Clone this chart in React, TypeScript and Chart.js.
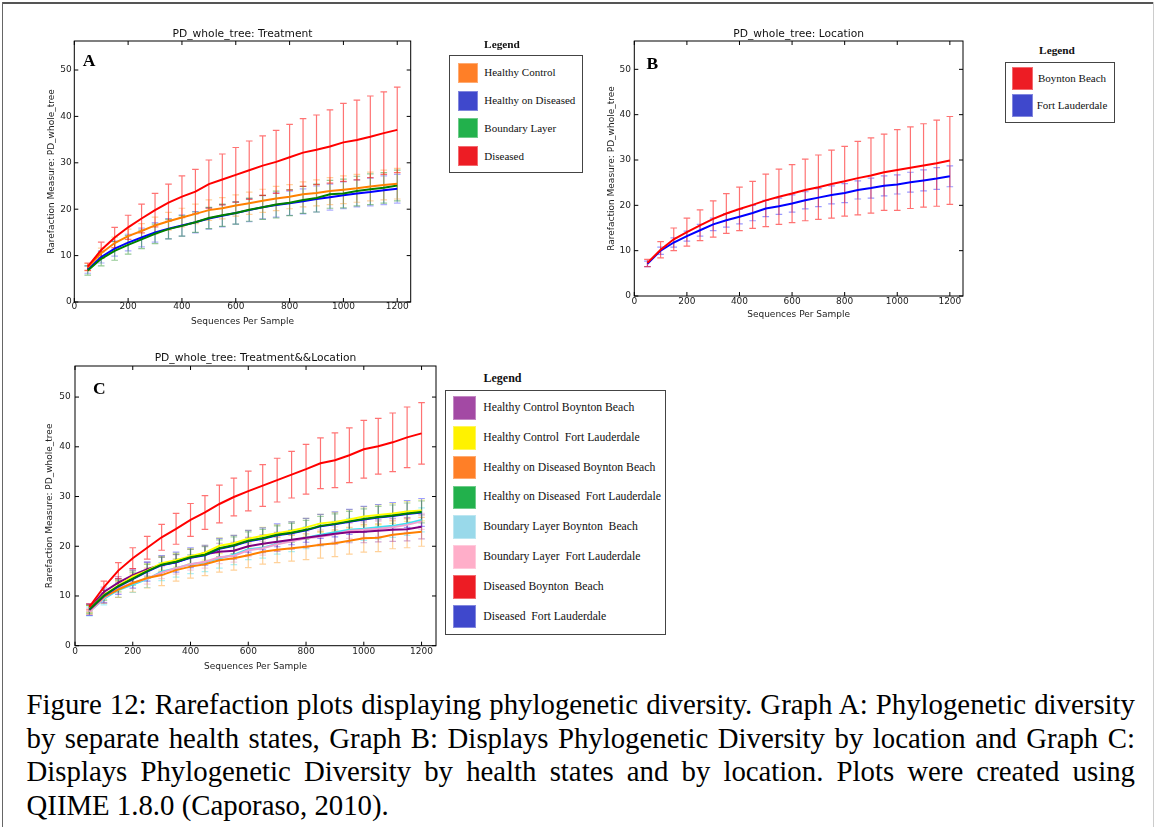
import React, { useEffect, useRef } from 'react';
import { Chart, registerables } from 'chart.js';

Chart.register(...registerables);

// ---------------- shared axes ----------------
const SEQS = [50, 100, 150, 200, 250, 300, 350, 400, 450, 500, 550, 600, 650, 700, 750, 800, 850, 900, 950, 1000, 1050, 1100, 1150, 1200];
const X_TICKS = [0, 200, 400, 600, 800, 1000, 1200];
const Y_TICKS = [0, 10, 20, 30, 40, 50];
const X_MAX = 1250;
const Y_MAX = 56.25;

// ---------------- Graph A: Treatment ----------------
const A_HC_MEAN = [7.5, 10.5, 12.7, 14.2, 15.3, 16.5, 17.4, 18.2, 19.0, 19.8, 20.2, 20.8, 21.3, 21.8, 22.3, 22.7, 23.2, 23.5, 23.9, 24.2, 24.5, 24.9, 25.2, 25.5];
const A_HC_SD = [0.8, 1.1, 1.3, 1.5, 1.6, 1.8, 1.9, 2.0, 2.1, 2.2, 2.3, 2.3, 2.4, 2.5, 2.6, 2.6, 2.7, 2.8, 2.9, 3.0, 3.0, 3.1, 3.2, 3.3];
const A_HOD_MEAN = [7.0, 9.7, 11.5, 12.8, 13.9, 15.0, 15.8, 16.5, 17.2, 18.0, 18.6, 19.2, 19.8, 20.4, 20.9, 21.3, 21.7, 22.2, 22.6, 23.0, 23.4, 23.7, 24.1, 24.4];
const A_HOD_SD = [0.8, 1.3, 1.6, 1.8, 2.0, 2.1, 2.2, 2.3, 2.3, 2.3, 2.4, 2.4, 2.5, 2.5, 2.6, 2.6, 2.7, 2.8, 2.8, 2.9, 2.9, 3.0, 3.1, 3.1];
const A_BL_MEAN = [6.8, 9.3, 11.0, 12.3, 13.5, 14.7, 15.7, 16.4, 17.2, 18.1, 18.7, 19.2, 19.9, 20.4, 21.0, 21.4, 22.0, 22.4, 23.2, 23.4, 23.9, 24.3, 24.6, 25.1];
const A_BL_SD = [1.0, 1.5, 2.0, 2.0, 2.0, 2.1, 2.1, 2.2, 2.2, 2.3, 2.4, 2.4, 2.5, 2.6, 2.9, 2.8, 2.9, 3.0, 3.0, 3.1, 3.2, 3.3, 3.3, 3.3];
const A_D_MEAN = [7.6, 11.2, 13.9, 16.1, 18.0, 19.8, 21.4, 22.7, 23.8, 25.4, 26.4, 27.4, 28.4, 29.4, 30.2, 31.2, 32.2, 32.8, 33.5, 34.4, 34.9, 35.6, 36.4, 37.1];
const A_D_SD = [0.8, 1.7, 2.2, 2.6, 3.1, 3.6, 4.0, 4.5, 4.8, 5.2, 5.5, 5.9, 6.3, 6.4, 6.8, 7.1, 7.3, 7.5, 7.9, 8.4, 8.6, 8.8, 8.9, 9.2];

// ---------------- Graph B: Location ----------------
const B_BB_MEAN = [7.3, 10.2, 12.5, 14.1, 15.6, 17.0, 18.2, 19.2, 20.1, 21.1, 21.9, 22.6, 23.4, 24.0, 24.7, 25.3, 26.0, 26.6, 27.3, 27.8, 28.3, 28.8, 29.3, 29.9];
const B_BB_SD = [0.8, 1.8, 2.5, 3.1, 3.4, 4.0, 4.4, 4.8, 5.2, 5.8, 6.1, 6.4, 6.8, 7.1, 7.5, 7.7, 8.1, 8.3, 8.4, 8.9, 9.0, 9.2, 9.5, 9.7];
const B_FL_MEAN = [7.1, 10.0, 11.8, 13.2, 14.5, 15.8, 16.7, 17.5, 18.3, 19.3, 19.8, 20.4, 21.1, 21.7, 22.3, 22.7, 23.4, 23.8, 24.3, 24.6, 25.1, 25.5, 25.9, 26.4];
const B_FL_SD = [0.6, 0.8, 1.0, 1.1, 1.3, 1.4, 1.5, 1.6, 1.7, 1.8, 1.8, 1.9, 1.9, 2.0, 2.0, 2.1, 2.0, 2.2, 2.2, 2.1, 2.2, 2.3, 2.4, 2.3];

// ---------------- Graph C: Treatment && Location ----------------
const C_HCBB_MEAN = [7.6, 10.8, 12.7, 14.2, 15.4, 16.3, 16.8, 17.8, 18.4, 18.9, 19.1, 20.0, 20.5, 20.9, 21.3, 21.7, 22.1, 22.5, 22.8, 22.9, 23.1, 23.3, 23.4, 23.9];
const C_HCBB_SD = [0.8, 1.0, 1.2, 1.3, 1.4, 1.5, 1.5, 1.6, 1.6, 1.7, 1.7, 1.8, 1.8, 1.9, 1.9, 2.0, 2.0, 2.1, 2.1, 2.2, 2.2, 2.3, 2.3, 2.4];
const C_HCFL_MEAN = [7.4, 10.2, 12.1, 13.9, 15.1, 16.6, 17.2, 18.0, 18.7, 20.1, 20.6, 21.5, 22.1, 22.6, 23.1, 23.8, 24.6, 24.9, 25.4, 26.0, 26.3, 26.6, 27.0, 27.2];
const C_HCFL_SD = [0.7, 0.9, 1.1, 1.2, 1.3, 1.4, 1.4, 1.5, 1.5, 1.6, 1.6, 1.7, 1.7, 1.7, 1.8, 1.8, 1.8, 1.9, 1.9, 1.9, 2.0, 2.0, 2.0, 2.1];
const C_HODBB_MEAN = [7.2, 9.8, 11.3, 12.6, 13.6, 14.2, 15.2, 15.9, 16.4, 17.2, 17.6, 18.2, 18.9, 19.3, 19.6, 19.9, 20.3, 20.6, 21.1, 21.6, 21.7, 22.3, 22.6, 22.9];
const C_HODBB_SD = [0.9, 1.3, 1.6, 1.8, 2.0, 2.1, 2.2, 2.3, 2.3, 2.4, 2.4, 2.5, 2.5, 2.6, 2.6, 2.6, 2.7, 2.7, 2.7, 2.8, 2.8, 2.8, 2.9, 2.9];
const C_HODFL_MEAN = [7.3, 10.1, 12.0, 13.5, 15.0, 16.3, 16.9, 17.8, 18.3, 19.6, 20.2, 21.1, 21.6, 22.3, 22.7, 23.3, 24.1, 24.5, 25.0, 25.5, 25.9, 26.2, 26.6, 26.9];
const C_HODFL_SD = [0.8, 1.0, 1.2, 1.3, 1.4, 1.5, 1.5, 1.6, 1.6, 1.7, 1.7, 1.8, 1.8, 1.8, 1.9, 1.9, 1.9, 2.0, 2.0, 2.0, 2.1, 2.1, 2.1, 2.2];
const C_BLBB_MEAN = [6.9, 9.4, 11.2, 12.3, 13.4, 14.9, 15.6, 16.4, 16.8, 17.6, 18.3, 19.4, 19.7, 20.5, 21.1, 21.7, 22.3, 22.8, 23.3, 23.5, 23.8, 24.1, 24.6, 25.3];
const C_BLBB_SD = [0.9, 1.2, 1.5, 1.6, 1.7, 1.8, 1.8, 1.9, 1.9, 2.0, 2.0, 2.1, 2.1, 2.1, 2.2, 2.2, 2.2, 2.2, 2.3, 2.3, 2.3, 2.3, 2.4, 2.4];
const C_BLFL_MEAN = [6.8, 9.6, 11.5, 12.6, 13.5, 14.7, 15.6, 16.4, 16.9, 17.8, 18.1, 19.2, 19.6, 20.4, 21.0, 21.6, 21.9, 22.4, 23.1, 23.3, 23.5, 23.8, 24.3, 25.0];
const C_BLFL_SD = [0.7, 0.9, 1.0, 1.1, 1.1, 1.2, 1.2, 1.2, 1.3, 1.3, 1.3, 1.3, 1.4, 1.4, 1.4, 1.4, 1.4, 1.5, 1.5, 1.5, 1.5, 1.5, 1.5, 1.6];
const C_DBB_MEAN = [7.8, 11.8, 15.1, 17.6, 19.7, 21.8, 23.5, 25.3, 26.8, 28.5, 29.9, 31.1, 32.2, 33.3, 34.4, 35.5, 36.7, 37.3, 38.3, 39.5, 40.1, 40.9, 41.9, 42.7];
const C_DBB_SD = [0.6, 1.2, 1.6, 2.1, 2.3, 2.6, 3.1, 3.3, 3.4, 3.8, 3.8, 4.0, 4.2, 4.4, 4.7, 5.0, 5.1, 5.5, 5.5, 5.8, 5.6, 5.9, 6.1, 6.2];
const C_DFL_MEAN = [7.2, 10.0, 11.9, 13.4, 14.9, 16.2, 16.8, 17.7, 18.2, 19.5, 20.1, 21.0, 21.5, 22.2, 22.6, 23.2, 24.0, 24.4, 24.9, 25.4, 25.8, 26.1, 26.5, 26.8];
const C_DFL_SD = [1.1, 1.4, 1.6, 1.8, 1.9, 1.9, 2.0, 2.0, 2.0, 2.1, 2.1, 2.2, 2.2, 2.3, 2.3, 2.4, 2.4, 2.5, 2.5, 2.6, 2.6, 2.7, 2.7, 2.8];

// ---------------- legends ----------------
const LEG_A_LABELS = ['Healthy Control', 'Healthy on Diseased', 'Boundary Layer', 'Diseased'];
const LEG_A_COLORS = ['#ff7f27', '#3f48cc', '#22b14c', '#ed1c24'];
const LEG_B_LABELS = ['Boynton Beach', 'Fort Lauderdale'];
const LEG_B_COLORS = ['#ed1c24', '#3f48cc'];
const LEG_C_LABELS = [
  'Healthy Control Boynton Beach',
  'Healthy Control  Fort Lauderdale',
  'Healthy on Diseased Boynton Beach',
  'Healthy on Diseased  Fort Lauderdale',
  'Boundary Layer Boynton  Beach',
  'Boundary Layer  Fort Lauderdale',
  'Diseased Boynton  Beach',
  'Diseased  Fort Lauderdale',
];
const LEG_C_COLORS = ['#a349a4', '#fff200', '#ff7f27', '#22b14c', '#99d9ea', '#ffaec9', '#ed1c24', '#3f48cc'];

const CAPTION_LINES = [
  'Figure 12: Rarefaction plots displaying phylogenetic diversity. Graph A: Phylogenetic diversity',
  'by separate health states, Graph B: Displays Phylogenetic Diversity by location and Graph C:',
  'Displays Phylogenetic Diversity by health states and by location. Plots were created using',
  'QIIME 1.8.0 (Caporaso, 2010).',
];

const SANS = "'DejaVu Sans', sans-serif";
const SERIF = "'Liberation Serif', 'Times New Roman', serif";

type Series = { name: string; mean: number[]; sd: number[]; line: string; err: string; order: number };

const SERIES_A: Series[] = [
  { name: 'Healthy Control', mean: A_HC_MEAN, sd: A_HC_SD, line: '#ff8000', err: 'rgba(255,140,0,0.38)', order: 1 },
  { name: 'Healthy on Diseased', mean: A_HOD_MEAN, sd: A_HOD_SD, line: '#0000ff', err: 'rgba(0,0,255,0.32)', order: 3 },
  { name: 'Boundary Layer', mean: A_BL_MEAN, sd: A_BL_SD, line: '#008000', err: 'rgba(0,128,0,0.42)', order: 2 },
  { name: 'Diseased', mean: A_D_MEAN, sd: A_D_SD, line: '#ff0000', err: 'rgba(255,0,0,0.55)', order: 0 },
];
const SERIES_B: Series[] = [
  { name: 'Boynton Beach', mean: B_BB_MEAN, sd: B_BB_SD, line: '#ff0000', err: 'rgba(255,0,0,0.55)', order: 0 },
  { name: 'Fort Lauderdale', mean: B_FL_MEAN, sd: B_FL_SD, line: '#0000ff', err: 'rgba(0,0,255,0.4)', order: 1 },
];
const SERIES_C: Series[] = [
  { name: LEG_C_LABELS[0], mean: C_HCBB_MEAN, sd: C_HCBB_SD, line: '#800080', err: 'rgba(128,0,128,0.35)', order: 4 },
  { name: LEG_C_LABELS[1], mean: C_HCFL_MEAN, sd: C_HCFL_SD, line: '#ffff00', err: 'rgba(230,230,0,0.4)', order: 3 },
  { name: LEG_C_LABELS[2], mean: C_HODBB_MEAN, sd: C_HODBB_SD, line: '#ff8000', err: 'rgba(255,140,0,0.4)', order: 5 },
  { name: LEG_C_LABELS[3], mean: C_HODFL_MEAN, sd: C_HODFL_SD, line: '#008000', err: 'rgba(0,128,0,0.35)', order: 1 },
  { name: LEG_C_LABELS[4], mean: C_BLBB_MEAN, sd: C_BLBB_SD, line: '#40e0f0', err: 'rgba(64,224,240,0.45)', order: 7 },
  { name: LEG_C_LABELS[5], mean: C_BLFL_MEAN, sd: C_BLFL_SD, line: '#f0a0d0', err: 'rgba(240,160,208,0.5)', order: 6 },
  { name: LEG_C_LABELS[6], mean: C_DBB_MEAN, sd: C_DBB_SD, line: '#ff0000', err: 'rgba(255,0,0,0.55)', order: 0 },
  { name: LEG_C_LABELS[7], mean: C_DFL_MEAN, sd: C_DFL_SD, line: '#0000ff', err: 'rgba(0,0,255,0.38)', order: 2 },
];

type Rect = { left: number; top: number; right: number; bottom: number };
type Spec = {
  title: string;
  series: Series[];
  canvas: Rect;
  plot: Rect;
  titleCy: number;
  xTitleCy: number;
  yTitleCx: number;
  yTickPad: number;
  xTickPad: number;
};

const SPEC_A: Spec = {
  title: 'PD_whole_tree: Treatment', series: SERIES_A,
  canvas: { left: 39, top: 23, right: 421, bottom: 336 },
  plot: { left: 74.3, top: 41, right: 410.7, bottom: 302 },
  titleCy: 34.3, xTitleCy: 321.7, yTitleCx: 51.7, yTickPad: 2.6, xTickPad: 0.3,
};
const SPEC_B: Spec = {
  title: 'PD_whole_tree: Location', series: SERIES_B,
  canvas: { left: 599, top: 23, right: 973, bottom: 330 },
  plot: { left: 634.3, top: 41, right: 963, bottom: 296 },
  titleCy: 34.3, xTitleCy: 315, yTitleCx: 611.7, yTickPad: 3.3, xTickPad: 1.2,
};
const SPEC_C: Spec = {
  title: 'PD_whole_tree: Treatment&&Location', series: SERIES_C,
  canvas: { left: 40, top: 348, right: 446, bottom: 680 },
  plot: { left: 75, top: 366, right: 436, bottom: 645.7 },
  titleCy: 358.3, xTitleCy: 666.7, yTitleCx: 49.7, yTickPad: 4.3, xTickPad: 1.5,
};

const errorFramePlugin = {
  id: 'errorFrame',
  beforeDatasetsDraw(chart: any) {
    const { ctx } = chart;
    const xs = chart.scales.x;
    const ys = chart.scales.y;
    const metas = chart.getSortedVisibleDatasetMetas();
    ctx.save();
    for (let k = metas.length - 1; k >= 0; k--) {
      const ds: any = chart.data.datasets[metas[k].index];
      if (!ds.sd) continue;
      ctx.strokeStyle = ds.errColor;
      ctx.lineWidth = 1.2;
      ds.data.forEach((p: any, j: number) => {
        const px = xs.getPixelForValue(p.x);
        const t = ys.getPixelForValue(p.y + ds.sd[j]);
        const b = ys.getPixelForValue(p.y - ds.sd[j]);
        ctx.beginPath();
        ctx.moveTo(px, t);
        ctx.lineTo(px, b);
        ctx.moveTo(px - 3.3, t);
        ctx.lineTo(px + 3.3, t);
        ctx.moveTo(px - 3.3, b);
        ctx.lineTo(px + 3.3, b);
        ctx.stroke();
      });
    }
    ctx.restore();
  },
  afterDraw(chart: any) {
    const { ctx, chartArea } = chart;
    const xs = chart.scales.x;
    const ys = chart.scales.y;
    const { left, top, right, bottom } = chartArea;
    ctx.save();
    ctx.strokeStyle = '#000';
    ctx.lineWidth = 1;
    ctx.strokeRect(left, top, right - left, bottom - top);
    ctx.beginPath();
    X_TICKS.forEach((v) => {
      const px = xs.getPixelForValue(v);
      ctx.moveTo(px, bottom);
      ctx.lineTo(px, bottom - 4);
      ctx.moveTo(px, top);
      ctx.lineTo(px, top + 4);
    });
    Y_TICKS.forEach((v) => {
      const py = ys.getPixelForValue(v);
      ctx.moveTo(left, py);
      ctx.lineTo(left + 4, py);
      ctx.moveTo(right, py);
      ctx.lineTo(right - 4, py);
    });
    ctx.stroke();
    ctx.restore();
  },
};

function buildConfig(spec: Spec): any {
  const { canvas, plot } = spec;
  const yAxisW = plot.left - canvas.left;
  const padRight = canvas.right - plot.right;
  const titleH = plot.top - canvas.top;
  const xAxisH = canvas.bottom - plot.bottom;
  const TITLE_SIZE = 10.7;
  const titleLH = TITLE_SIZE * 1.2;
  const titlePadTop = spec.titleCy - canvas.top - titleLH / 2;
  const titlePadBottom = Math.max(0, titleH - titleLH - titlePadTop);
  const AX_SIZE = 9;
  const axLH = AX_SIZE * 1.2;
  const xTitlePadBottom = canvas.bottom - spec.xTitleCy - axLH / 2;
  const yTitlePadTop = spec.yTitleCx - canvas.left - axLH / 2;
  const tickFont = { family: SANS, size: AX_SIZE, lineHeight: 1 };

  return {
    type: 'line',
    data: {
      datasets: spec.series.map((s) => ({
        label: s.name,
        data: SEQS.map((x, i) => ({ x, y: s.mean[i] })),
        borderColor: s.line,
        backgroundColor: s.line,
        borderWidth: 2,
        pointRadius: 0,
        fill: false,
        tension: 0,
        order: s.order,
        sd: s.sd,
        errColor: s.err,
      })),
    },
    options: {
      animation: false,
      responsive: false,
      maintainAspectRatio: false,
      events: [],
      layout: { padding: { left: 0, top: 0, right: padRight, bottom: 0 } },
      plugins: {
        legend: { display: false },
        tooltip: { enabled: false },
        title: {
          display: true,
          text: spec.title,
          fullSize: false,
          color: '#111',
          font: { family: SANS, size: TITLE_SIZE, weight: 'normal' },
          padding: { top: titlePadTop, bottom: titlePadBottom },
        },
      },
      scales: {
        x: {
          type: 'linear',
          min: 0,
          max: X_MAX,
          afterBuildTicks: (axis: any) => {
            axis.ticks = X_TICKS.map((v) => ({ value: v }));
          },
          afterFit: (axis: any) => {
            axis.height = xAxisH;
          },
          grid: { display: false, drawTicks: false },
          border: { display: false },
          ticks: {
            font: tickFont,
            color: '#222',
            padding: spec.xTickPad,
            maxRotation: 0,
            autoSkip: false,
            callback: (v: any) => String(v),
          },
          title: {
            display: true,
            text: 'Sequences Per Sample',
            color: '#222',
            font: { family: SANS, size: AX_SIZE },
            padding: { top: 0, bottom: xTitlePadBottom },
          },
        },
        y: {
          type: 'linear',
          min: 0,
          max: Y_MAX,
          afterBuildTicks: (axis: any) => {
            axis.ticks = Y_TICKS.map((v) => ({ value: v }));
          },
          afterFit: (axis: any) => {
            axis.width = yAxisW;
          },
          grid: { display: false, drawTicks: false },
          border: { display: false },
          ticks: {
            font: tickFont,
            color: '#222',
            padding: spec.yTickPad,
            autoSkip: false,
            callback: (v: any) => String(v),
          },
          title: {
            display: true,
            text: 'Rarefaction Measure: PD_whole_tree',
            color: '#222',
            font: { family: SANS, size: AX_SIZE },
            padding: { top: yTitlePadTop, bottom: 0 },
          },
        },
      },
    },
    plugins: [errorFramePlugin],
  };
}

function RarefactionChart({ spec }: { spec: Spec }) {
  const ref = useRef<HTMLCanvasElement>(null);
  const w = spec.canvas.right - spec.canvas.left;
  const h = spec.canvas.bottom - spec.canvas.top;
  useEffect(() => {
    const chart = new Chart(ref.current as HTMLCanvasElement, buildConfig(spec));
    return () => chart.destroy();
  }, [spec]);
  return (
    <canvas
      ref={ref}
      width={w}
      height={h}
      style={{ position: 'absolute', left: spec.canvas.left, top: spec.canvas.top, width: w, height: h }}
    />
  );
}

type LegendProps = {
  labels: string[];
  colors: string[];
  titleCx: number;
  titleCy: number;
  titleSize: number;
  box: { l: number; t: number; w: number; h: number };
  swLeft: number;
  swW: number;
  swH: number;
  cy0: number;
  step: number;
  textLeft?: number;
  textCx?: number;
  fontSize: number;
};

function LegendBox(p: LegendProps) {
  return (
    <>
      <div
        style={{
          position: 'absolute', left: p.titleCx - 50, width: 100, top: p.titleCy - p.titleSize * 0.6,
          height: p.titleSize * 1.2, lineHeight: `${p.titleSize * 1.2}px`, textAlign: 'center',
          fontFamily: SERIF, fontWeight: 'bold', fontSize: p.titleSize, color: '#111',
        }}
      >
        Legend
      </div>
      <div
        style={{
          position: 'absolute', left: p.box.l, top: p.box.t, width: p.box.w, height: p.box.h,
          border: '1px solid #444', boxSizing: 'border-box', background: '#fff',
        }}
      />
      {p.labels.map((lab, i) => {
        const cy = p.cy0 + i * p.step;
        const centered = p.textLeft === undefined;
        return (
          <React.Fragment key={i}>
            <div
              style={{
                position: 'absolute', left: p.swLeft, top: cy - p.swH / 2, width: p.swW, height: p.swH,
                background: p.colors[i], boxShadow: 'inset 0 0 0 1px rgba(255,255,255,0.35)',
              }}
            />
            <div
              style={{
                position: 'absolute',
                left: centered ? (p.textCx as number) - 60 : p.textLeft,
                width: centered ? 120 : undefined,
                top: cy - p.fontSize * 0.6,
                height: p.fontSize * 1.2,
                lineHeight: `${p.fontSize * 1.2}px`,
                fontSize: p.fontSize,
                fontFamily: SERIF,
                whiteSpace: 'pre',
                textAlign: centered ? 'center' : 'left',
                color: '#111',
              }}
            >
              {lab}
            </div>
          </React.Fragment>
        );
      })}
    </>
  );
}

const letterStyle = (left: number, top: number): React.CSSProperties => ({
  position: 'absolute', left, top, fontFamily: SERIF, fontWeight: 'bold', fontSize: 17.5,
  lineHeight: '17.5px', color: '#000',
});

export default function App() {
  return (
    <div
      style={{
        position: 'absolute', left: 0, top: 0, width: 1155, height: 827, background: '#fff', overflow: 'hidden',
      }}
    >
      {/* figure frame */}
      <div style={{ position: 'absolute', left: 2, top: 2, width: 1152, height: 2, background: '#555' }} />
      <div style={{ position: 'absolute', left: 2, top: 2, width: 1, height: 830, background: '#666' }} />
      <div style={{ position: 'absolute', left: 1153, top: 2, width: 1, height: 830, background: '#ccc' }} />

      <RarefactionChart spec={SPEC_A} />
      <RarefactionChart spec={SPEC_B} />
      <RarefactionChart spec={SPEC_C} />

      <div style={letterStyle(82.7, 52)}>A</div>
      <div style={letterStyle(646.5, 54.7)}>B</div>
      <div style={letterStyle(93, 379.7)}>C</div>

      <LegendBox
        labels={LEG_A_LABELS} colors={LEG_A_COLORS}
        titleCx={502} titleCy={45} titleSize={11.3}
        box={{ l: 449, t: 55, w: 134, h: 118 }}
        swLeft={458.3} swW={20} swH={20} cy0={72.8} step={27.8}
        textLeft={484.3} fontSize={11}
      />
      <LegendBox
        labels={LEG_B_LABELS} colors={LEG_B_COLORS}
        titleCx={1057} titleCy={51} titleSize={11.3}
        box={{ l: 1005, t: 62, w: 110, h: 61 }}
        swLeft={1011.7} swW={21.7} swH={23} cy0={78.3} step={26.9}
        textCx={1072} fontSize={11}
      />
      <LegendBox
        labels={LEG_C_LABELS} colors={LEG_C_COLORS}
        titleCx={502.5} titleCy={378.3} titleSize={12}
        box={{ l: 445, t: 390, w: 221, h: 245 }}
        swLeft={452.7} swW={23} swH={23.5} cy0={408} step={29.8}
        textLeft={483.3} fontSize={11.7}
      />

      {CAPTION_LINES.map((line, i) => (
        <div
          key={i}
          style={{
            position: 'absolute', left: 26.5, top: 688 + i * 33.7, width: 1108.5, height: 33.7,
            lineHeight: '33.7px', fontSize: 28.8, fontFamily: SERIF, whiteSpace: 'nowrap',
            textAlign: i < 3 ? 'justify' : 'left', textAlignLast: i < 3 ? 'justify' : 'left', color: '#000',
          }}
        >
          {line}
        </div>
      ))}
    </div>
  );
}
